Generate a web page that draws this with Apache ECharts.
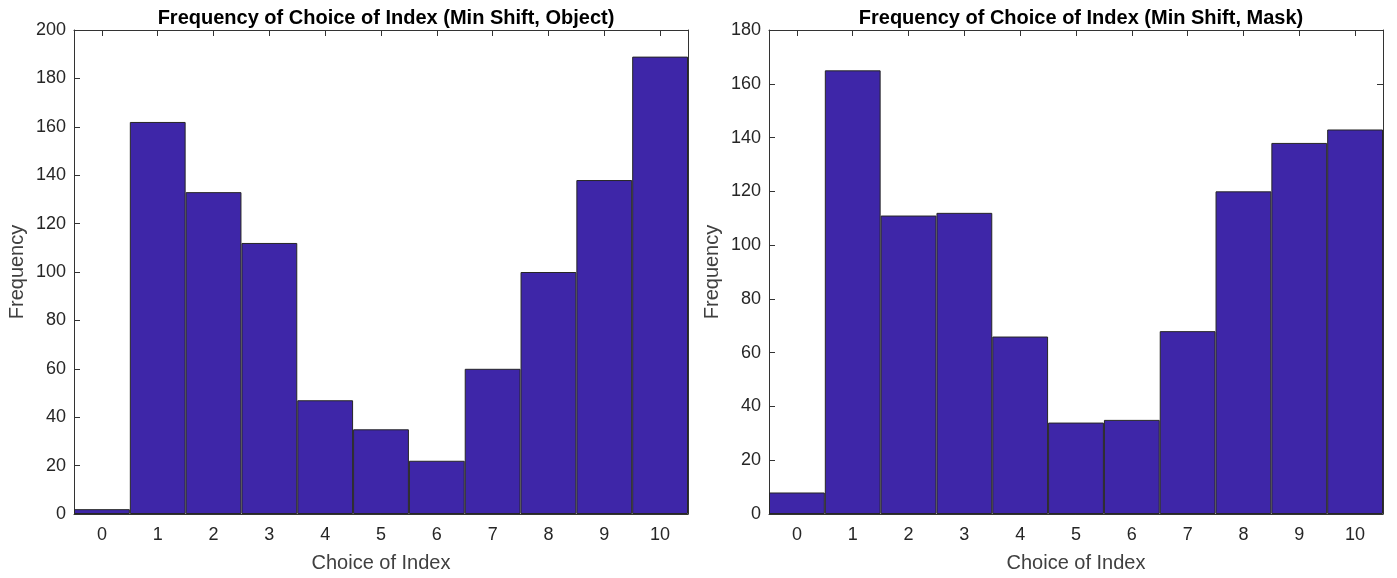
<!DOCTYPE html>
<html>
<head>
<meta charset="utf-8">
<script src="https://cdn.jsdelivr.net/npm/echarts@6/dist/echarts.min.js"></script>
<style>html,body{margin:0;padding:0;background:#fff}#c{width:1397px;height:578px}</style>
</head>
<body>
<div id="c"></div>
<script>
const categories = ['0','1','2','3','4','5','6','7','8','9','10'];
const objectFreq = [2, 162, 133, 112, 47, 35, 22, 60, 100, 138, 189];
const maskFreq = [8, 165, 111, 112, 66, 34, 35, 68, 120, 138, 143];
const titles = ['Frequency of Choice of Index (Min Shift, Object)', 'Frequency of Choice of Index (Min Shift, Mask)'];
const yMax = [200, 180];

const chart = echarts.init(document.getElementById('c'), null, {renderer: 'canvas'});
const font = 'Liberation Sans, Arial, sans-serif';
const axisColor = '#333333';
const textColor = '#262626';
const grids = [
  {left: 74, right: 709, top: 30, bottom: 63},
  {left: 769, right: 14, top: 30, bottom: 63}
];
const xAxes = [], yAxes = [], series = [], title = [];
[objectFreq, maskFreq].forEach((data, i) => {
  const g = grids[i];
  const cx = g.left + (1397 - g.left - g.right) / 2;
  title.push({text: titles[i], left: cx, top: 3, textAlign: 'center',
    textStyle: {fontFamily: font, fontSize: 20, fontWeight: 'bold', color: '#000'}});
  xAxes.push({type: 'category', gridIndex: i, data: categories, position: 'bottom',
    name: 'Choice of Index', nameLocation: 'middle', nameGap: 39,
    nameTextStyle: {fontFamily: font, fontSize: 20, color: '#404040'},
    axisLine: {onZero: false, lineStyle: {color: axisColor, width: 1}},
    axisTick: {inside: true, alignWithLabel: true, length: 6, lineStyle: {color: axisColor}},
    axisLabel: {fontFamily: font, fontSize: 18, color: textColor, margin: 12},
    splitLine: {show: false}});
  xAxes.push({type: 'category', gridIndex: i, data: categories, position: 'top',
    axisLine: {show: true, onZero: false, lineStyle: {color: axisColor, width: 1}},
    axisTick: {show: true, inside: true, alignWithLabel: true, length: 6, lineStyle: {color: axisColor}},
    axisLabel: {show: false}, splitLine: {show: false}});
  yAxes.push({type: 'value', gridIndex: i, min: 0, max: yMax[i], interval: 20, position: 'left',
    name: 'Frequency', nameLocation: 'middle', nameGap: 47, nameRotate: 90,
    nameTextStyle: {fontFamily: font, fontSize: 20, color: '#404040'},
    axisLine: {show: true, onZero: false, lineStyle: {color: axisColor, width: 1}},
    axisTick: {show: true, inside: true, length: 6, lineStyle: {color: axisColor}},
    axisLabel: {fontFamily: font, fontSize: 18, color: textColor, margin: 8},
    splitLine: {show: false}});
  yAxes.push({type: 'value', gridIndex: i, min: 0, max: yMax[i], interval: 20, position: 'right',
    axisLine: {show: true, onZero: false, lineStyle: {color: axisColor, width: 1}},
    axisTick: {show: true, inside: true, length: 6, lineStyle: {color: axisColor}},
    axisLabel: {show: false}, splitLine: {show: false}});
  series.push({type: 'bar', xAxisIndex: i * 2, yAxisIndex: i * 2, data: data,
    barCategoryGap: '0%', silent: true,
    itemStyle: {color: 'rgb(62,38,168)', borderColor: '#262626', borderWidth: 1}});
});
chart.setOption({animation: false, backgroundColor: '#fff', title, grid: grids,
  xAxis: xAxes, yAxis: yAxes, series});
</script>
</body>
</html>
